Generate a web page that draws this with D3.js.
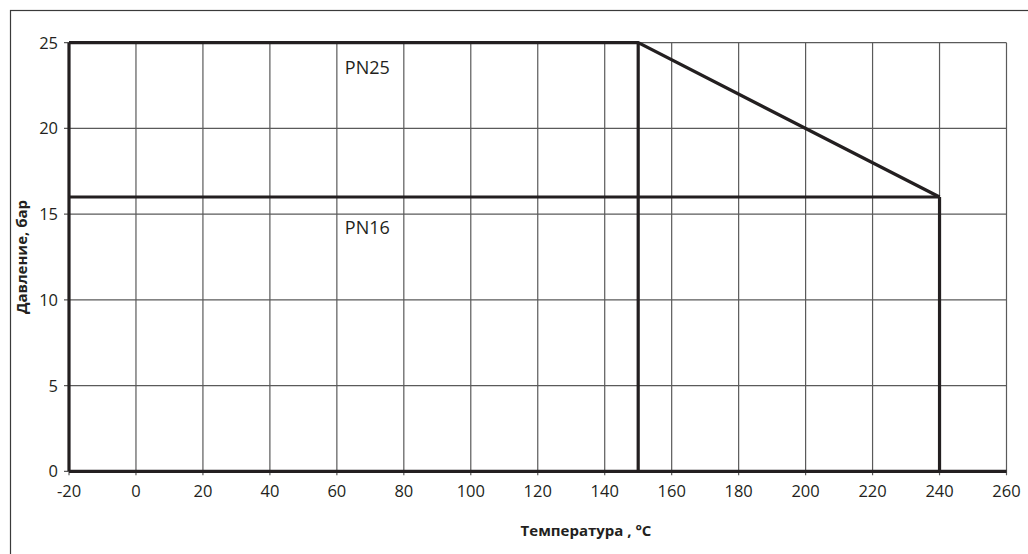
<!DOCTYPE html>
<html>
<head>
<meta charset="utf-8">
<script src="https://cdn.jsdelivr.net/npm/d3@7"></script>
<style>
  body { margin: 0; background: #fff; }
  svg { display: block; }
  .tick-label { font-family: "Open Sans", sans-serif; font-size: 16.5px; fill: #231f20; }
  .title { font-family: "Open Sans", sans-serif; font-weight: bold; font-size: 15px; fill: #231f20; }
  .pn { font-family: "Open Sans", sans-serif; font-size: 18px; fill: #231f20; }
</style>
</head>
<body>
<div id="chart"></div>
<script>
// data
const xTicks = [-20, 0, 20, 40, 60, 80, 100, 120, 140, 160, 180, 200, 220, 240, 260];
const yTicks = [0, 5, 10, 15, 20, 25];
const pn25Temp = [-20, 150, 240];
const pn25Press = [25, 25, 16];
const pn16Temp = [-20, 240];
const pn16Press = [16, 16];
const limitTemp = [150, 240];
const limitPress = [25, 16];
const seriesNames = ['PN25', 'PN16'];

const width = 1028, height = 554;
const margin = { left: 69, right: 1028 - 1006.5, top: 42.7, bottom: 554 - 471.3 };

const svg = d3.select('#chart').append('svg')
  .attr('width', width)
  .attr('height', height);

// outer frame (only left/top edges show)
svg.append('rect')
  .attr('x', 10.5).attr('y', 10.5)
  .attr('width', 1040).attr('height', 560)
  .attr('fill', 'none')
  .attr('stroke', '#3a3a3a')
  .attr('stroke-width', 1.2);

const x = d3.scaleLinear().domain([-20, 260]).range([margin.left, width - margin.right]);
const y = d3.scaleLinear().domain([0, 25]).range([height - margin.bottom, margin.top]);

const grid = svg.append('g');
const dark = '#231f20';
const gridColor = '#5a5a5a';

// vertical grid lines (with short tick below axis)
grid.selectAll('.vgrid')
  .data(xTicks)
  .enter().append('line')
  .attr('x1', d => x(d)).attr('x2', d => x(d))
  .attr('y1', y(25)).attr('y2', y(0) + 4)
  .attr('stroke', gridColor)
  .attr('stroke-width', 1.2);

// horizontal grid lines (with short tick left of axis)
grid.selectAll('.hgrid')
  .data(yTicks)
  .enter().append('line')
  .attr('x1', x(-20) - 5).attr('x2', x(260))
  .attr('y1', d => y(d)).attr('y2', d => y(d))
  .attr('stroke', gridColor)
  .attr('stroke-width', 1.2);

// tick labels
svg.selectAll('.xlab')
  .data(xTicks)
  .enter().append('text')
  .attr('class', 'tick-label')
  .attr('x', d => x(d))
  .attr('y', y(0) + 26)
  .attr('text-anchor', 'middle')
  .text(d => d);

svg.selectAll('.ylab')
  .data(yTicks)
  .enter().append('text')
  .attr('class', 'tick-label')
  .attr('x', x(-20) - 11)
  .attr('y', d => y(d) + 6)
  .attr('text-anchor', 'end')
  .text(d => d);

// axes lines (thick)
const thick = 3.2;
svg.append('line')
  .attr('x1', x(-20)).attr('x2', x(-20))
  .attr('y1', y(0)).attr('y2', y(25))
  .attr('stroke', dark).attr('stroke-width', thick);
svg.append('line')
  .attr('x1', x(-20)).attr('x2', x(260))
  .attr('y1', y(0)).attr('y2', y(0))
  .attr('stroke', dark).attr('stroke-width', thick);

// limit curves
const line = d3.line().x(d => x(d[0])).y(d => y(d[1]));
const pn25 = pn25Temp.map((t, i) => [t, pn25Press[i]]);
const pn16 = pn16Temp.map((t, i) => [t, pn16Press[i]]);

[pn25, pn16].forEach(s => {
  svg.append('path')
    .attr('d', line(s))
    .attr('fill', 'none')
    .attr('stroke', dark)
    .attr('stroke-width', thick)
    .attr('stroke-linejoin', 'miter');
});

svg.selectAll('.limit')
  .data(limitTemp)
  .enter().append('line')
  .attr('x1', d => x(d)).attr('x2', d => x(d))
  .attr('y1', y(0)).attr('y2', (d, i) => y(limitPress[i]))
  .attr('stroke', dark)
  .attr('stroke-width', thick);

// series labels
svg.append('text').attr('class', 'pn')
  .attr('x', x(60) + 8).attr('y', y(pn25Press[0]) + 31)
  .text(seriesNames[0]);
svg.append('text').attr('class', 'pn')
  .attr('x', x(60) + 8).attr('y', y(pn16Press[0]) + 37)
  .text(seriesNames[1]);

// axis titles
svg.append('text').attr('class', 'title')
  .attr('x', 586).attr('y', 536)
  .attr('text-anchor', 'middle')
  .text('Температура , °C');

svg.append('text').attr('class', 'title')
  .attr('transform', 'translate(27,257) rotate(-90)')
  .attr('text-anchor', 'middle')
  .text('Давление, бар');
</script>
</body>
</html>
